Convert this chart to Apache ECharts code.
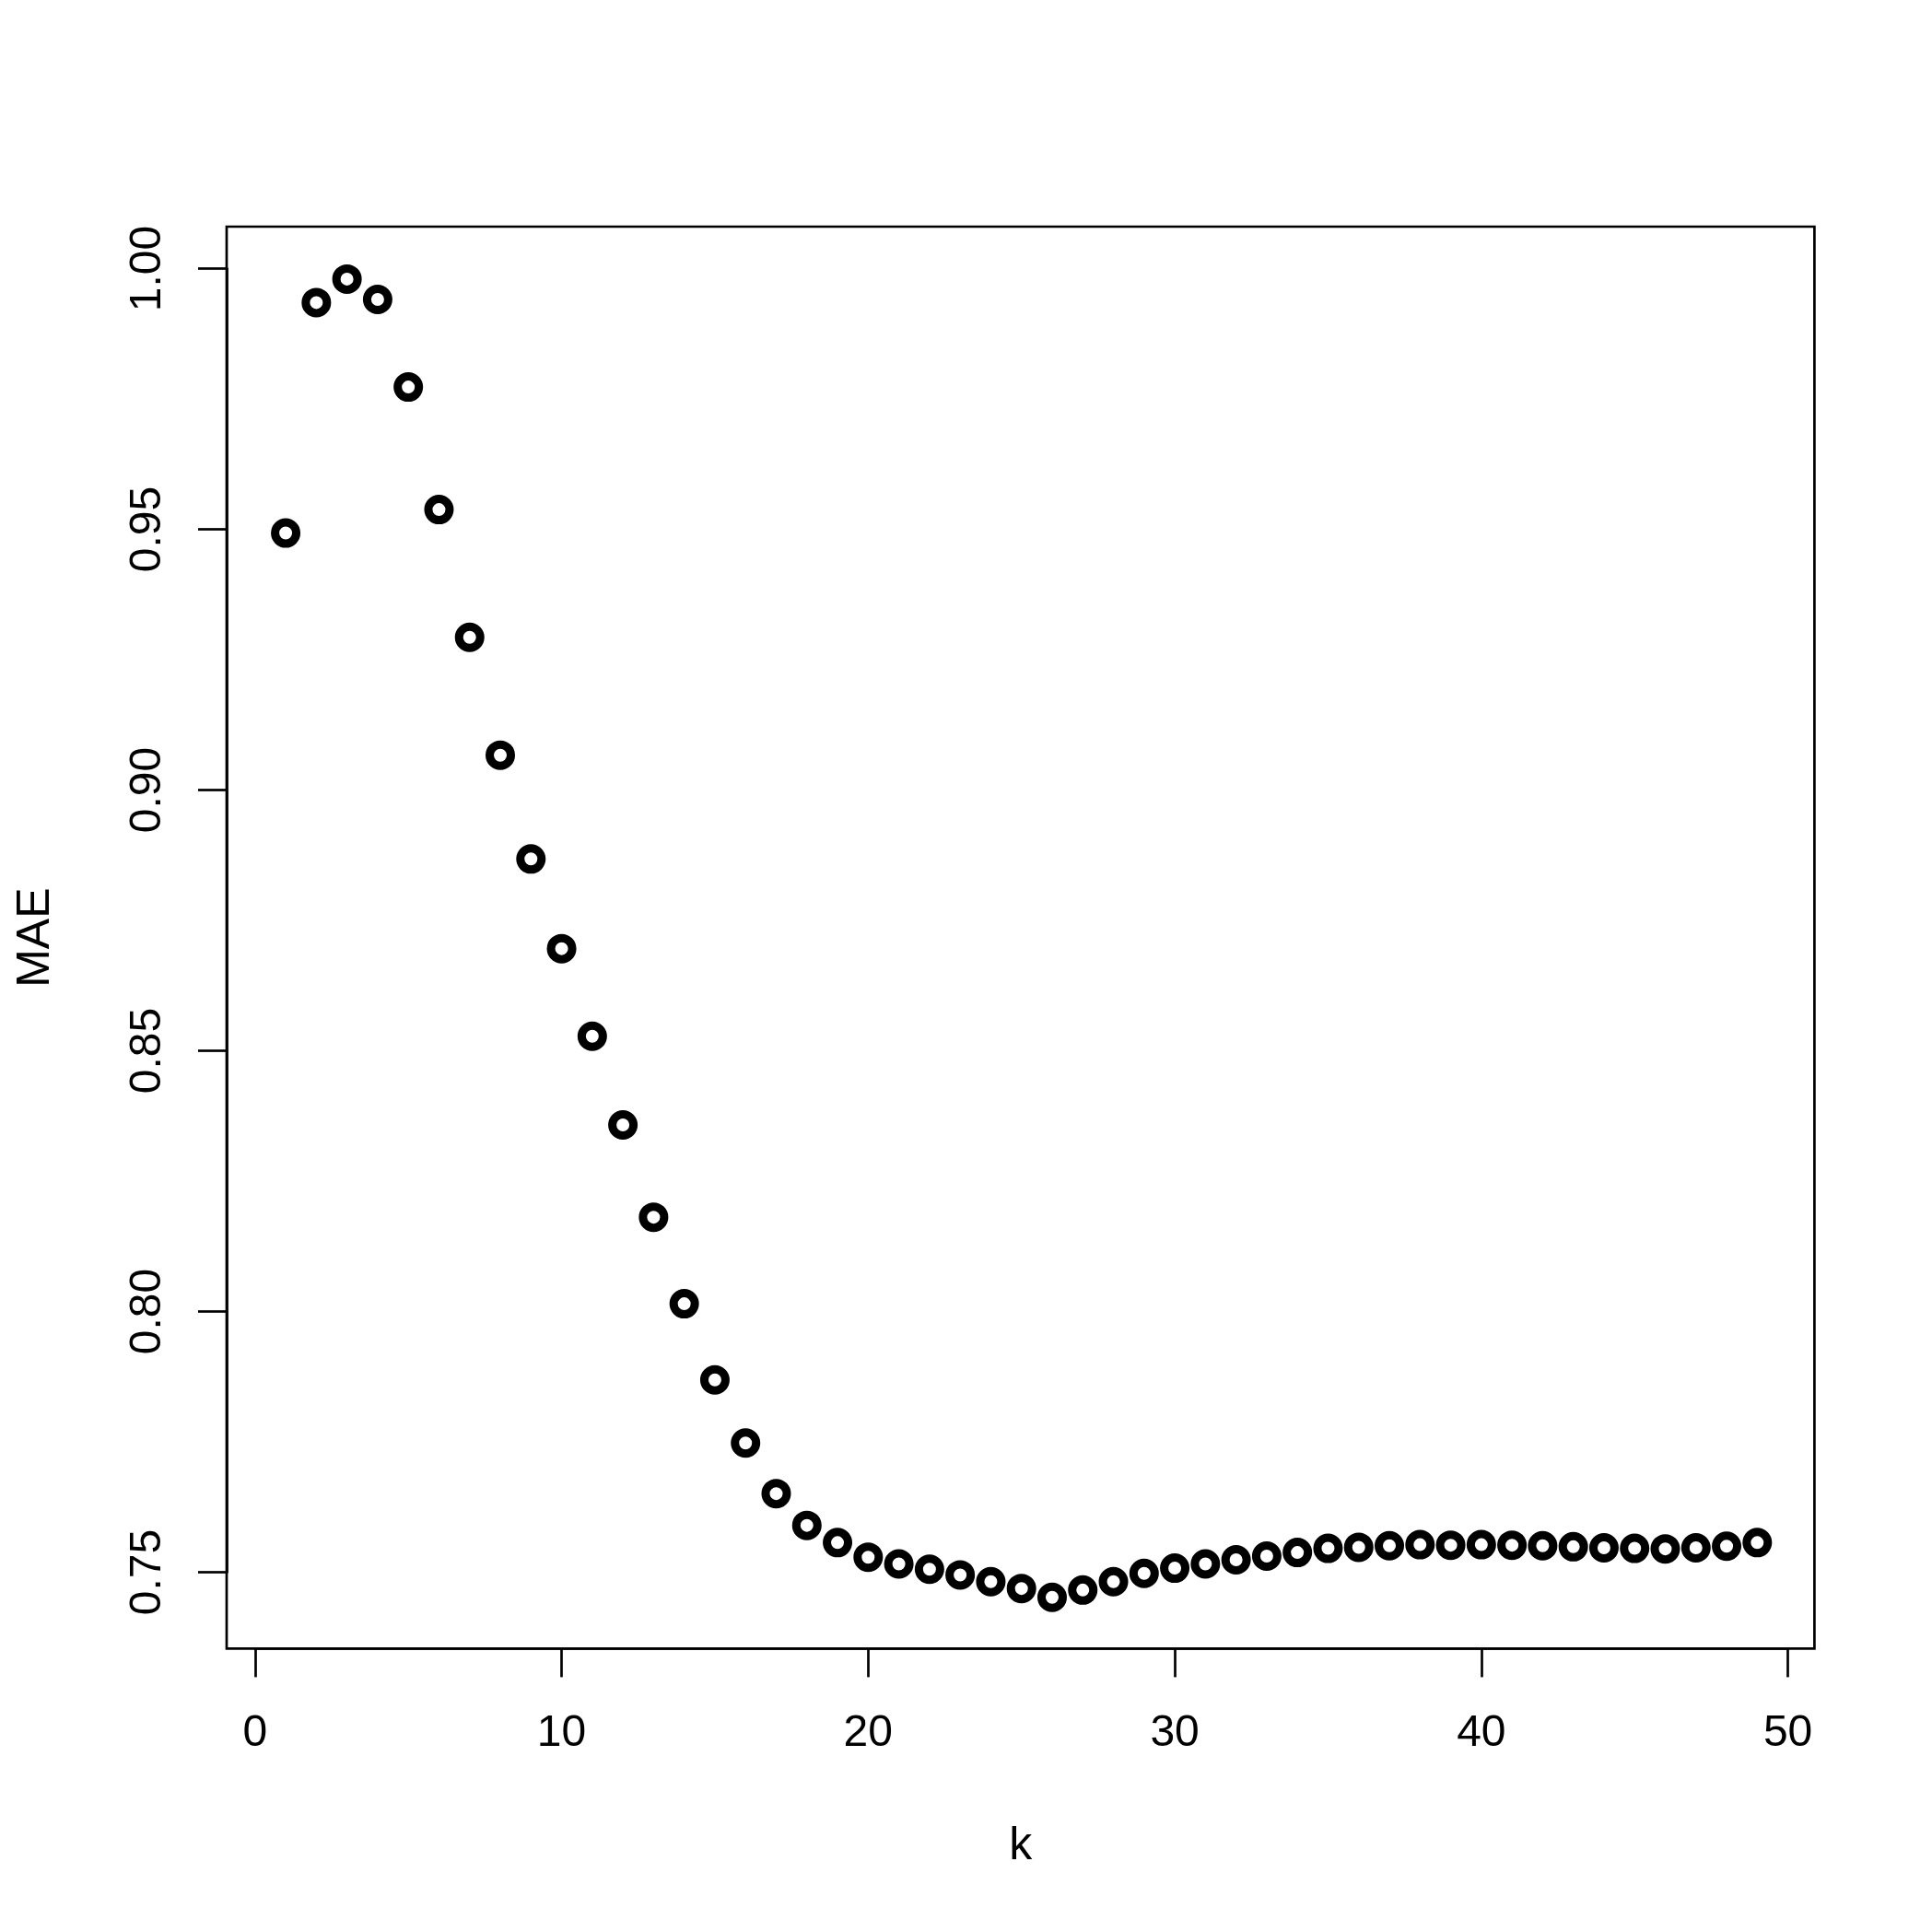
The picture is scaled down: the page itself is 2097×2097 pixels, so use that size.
<!DOCTYPE html>
<html>
<head>
<meta charset="utf-8">
<script src="https://cdn.jsdelivr.net/npm/echarts@6/dist/echarts.min.js"></script>
<style>
  html, body { margin: 0; padding: 0; background: #fff; }
  #chart { width: 2097px; height: 2097px; }
</style>
</head>
<body>
<div id="chart"></div>
<script>
// k values and MAE
var kValues = [1, 2, 3, 4, 5, 6, 7, 8, 9, 10, 11, 12, 13, 14, 15, 16, 17, 18, 19, 20,
               21, 22, 23, 24, 25, 26, 27, 28, 29, 30, 31, 32, 33, 34, 35, 36, 37, 38, 39, 40,
               41, 42, 43, 44, 45, 46, 47, 48, 49];
var maeValues = [0.9493, 0.9935, 0.9980, 0.9941, 0.9773, 0.9538, 0.9293, 0.9067, 0.8868, 0.8696,
                 0.8528, 0.8358, 0.8181, 0.8015, 0.7869, 0.7748, 0.7651, 0.7590, 0.7557, 0.7529,
                 0.7516, 0.7506, 0.7495, 0.7482, 0.7469, 0.7452, 0.7466, 0.7482, 0.7498, 0.7508,
                 0.7516, 0.7524, 0.7531, 0.7538, 0.7546, 0.7548, 0.7551, 0.7553, 0.7552, 0.7553,
                 0.7552, 0.7551, 0.7549, 0.7547, 0.7546, 0.7545, 0.7547, 0.7550, 0.7557];
var xTicks = [0, 50, 10];      // min, max, step
var yTicks = [0.75, 1.00, 0.05];

var font = "Liberation Sans";
var points = kValues.map(function (k, i) { return [k, maeValues[i]]; });

var chart = echarts.init(document.getElementById("chart"), null, { renderer: "canvas" });
chart.setOption({
    backgroundColor: "#fff",
    animation: false,
    grid: [
        // outer box (R plot region)
        { left: 246, right: 127.6, top: 246, bottom: 307.6, show: true,
          borderColor: "#000", borderWidth: 2.7, backgroundColor: "transparent" },
        // data area, spans exactly the tick range
        { left: 276.8, right: 156.4, top: 291.6, bottom: 390.4 }
    ],
    xAxis: [
        { gridIndex: 0, type: "value", min: 0, max: 1,
          axisLine: { show: false }, axisTick: { show: false }, axisLabel: { show: false },
          splitLine: { show: false },
          name: "k", nameLocation: "middle", nameGap: 190,
          nameTextStyle: { fontFamily: font, fontSize: 50, color: "#000" } },
        { gridIndex: 1, type: "value", min: xTicks[0], max: xTicks[1], interval: xTicks[2],
          offset: 82.8,
          axisLine: { onZero: false, lineStyle: { color: "#000", width: 2.7 } },
          axisTick: { length: 31, lineStyle: { color: "#000", width: 2.7 } },
          axisLabel: { fontFamily: font, fontSize: 48, color: "#000", margin: 68 },
          splitLine: { show: false } }
    ],
    yAxis: [
        { gridIndex: 0, type: "value", min: 0, max: 1,
          axisLine: { show: false }, axisTick: { show: false }, axisLabel: { show: false },
          splitLine: { show: false },
          name: "MAE", nameLocation: "middle", nameGap: 182, nameRotate: 90,
          nameTextStyle: { fontFamily: font, fontSize: 50, color: "#000" } },
        { gridIndex: 1, type: "value", min: yTicks[0], max: yTicks[1], interval: yTicks[2],
          offset: 30.8,
          axisLine: { onZero: false, lineStyle: { color: "#000", width: 2.7 } },
          axisTick: { length: 31, lineStyle: { color: "#000", width: 2.7 } },
          axisLabel: { fontFamily: font, fontSize: 48, color: "#000", margin: 61, rotate: 90,
                       formatter: function (v) { return v.toFixed(2); } },
          splitLine: { show: false } }
    ],
    series: [{
        type: "scatter",
        xAxisIndex: 1,
        yAxisIndex: 1,
        clip: false,
        data: points,
        symbol: "circle",
        symbolSize: 23,
        itemStyle: { color: "#fff", borderColor: "#000", borderWidth: 9, opacity: 1 }
    }]
});
</script>
</body>
</html>
